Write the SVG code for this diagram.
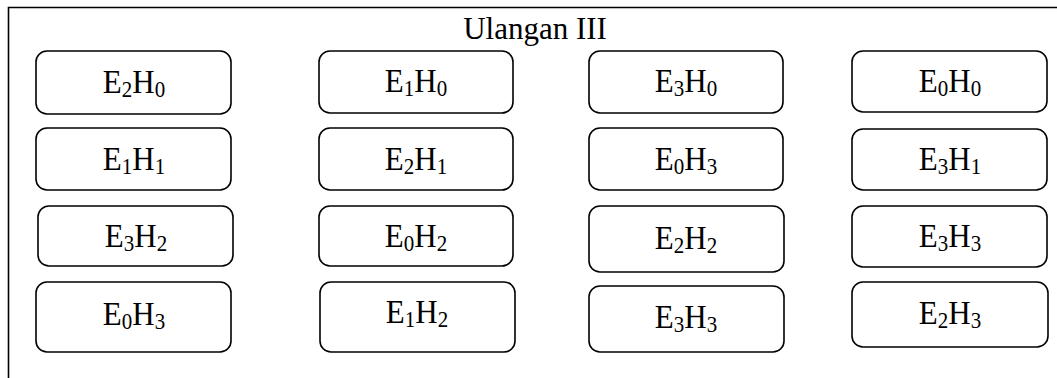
<svg xmlns="http://www.w3.org/2000/svg" width="1057" height="378" viewBox="0 0 1057 378">
<style>
.b{fill:#fff;stroke:#000;stroke-width:1.6}
.t{font-family:"Liberation Serif","Times New Roman",serif;font-size:31px;fill:#000;text-anchor:middle}
.s{font-size:21px}
.f{stroke:#000;stroke-width:1.6;fill:none}
</style>
<rect width="1057" height="378" fill="#fff"/>
<g id="frame">
<path class="f" d="M8.5 378 V7.5 H1057"/>
<text class="t" x="535" y="39">Ulangan III</text>
</g>
<g id="connectors"></g>
<g id="n11"><rect class="b" x="36" y="51" width="195" height="63" rx="11"/><text class="t" transform="matrix(1 0 0 1.1 134 93)">E<tspan class="s" dy="4">2</tspan><tspan dy="-4">H</tspan><tspan class="s" dy="4">0</tspan></text></g>
<g id="n12"><rect class="b" x="319" y="51" width="194" height="62" rx="11"/><text class="t" transform="matrix(1 0 0 1.1 416 92)">E<tspan class="s" dy="4">1</tspan><tspan dy="-4">H</tspan><tspan class="s" dy="4">0</tspan></text></g>
<g id="n13"><rect class="b" x="589" y="51" width="194" height="62" rx="11"/><text class="t" transform="matrix(1 0 0 1.1 686 92)">E<tspan class="s" dy="4">3</tspan><tspan dy="-4">H</tspan><tspan class="s" dy="4">0</tspan></text></g>
<g id="n14"><rect class="b" x="852" y="51" width="195" height="61" rx="11"/><text class="t" transform="matrix(1 0 0 1.1 950 92)">E<tspan class="s" dy="4">0</tspan><tspan dy="-4">H</tspan><tspan class="s" dy="4">0</tspan></text></g>
<g id="n21"><rect class="b" x="36" y="128" width="195" height="62" rx="11"/><text class="t" transform="matrix(1 0 0 1.1 134 170)">E<tspan class="s" dy="4">1</tspan><tspan dy="-4">H</tspan><tspan class="s" dy="4">1</tspan></text></g>
<g id="n22"><rect class="b" x="319" y="128" width="194" height="62" rx="11"/><text class="t" transform="matrix(1 0 0 1.1 416 170)">E<tspan class="s" dy="4">2</tspan><tspan dy="-4">H</tspan><tspan class="s" dy="4">1</tspan></text></g>
<g id="n23"><rect class="b" x="589" y="128" width="194" height="62" rx="11"/><text class="t" transform="matrix(1 0 0 1.1 686 170)">E<tspan class="s" dy="4">0</tspan><tspan dy="-4">H</tspan><tspan class="s" dy="4">3</tspan></text></g>
<g id="n24"><rect class="b" x="852" y="129" width="195" height="61" rx="11"/><text class="t" transform="matrix(1 0 0 1.1 950 170)">E<tspan class="s" dy="4">3</tspan><tspan dy="-4">H</tspan><tspan class="s" dy="4">1</tspan></text></g>
<g id="n31"><rect class="b" x="38" y="206" width="195" height="60" rx="11"/><text class="t" transform="matrix(1 0 0 1.1 136 247)">E<tspan class="s" dy="4">3</tspan><tspan dy="-4">H</tspan><tspan class="s" dy="4">2</tspan></text></g>
<g id="n32"><rect class="b" x="319" y="206" width="194" height="60" rx="11"/><text class="t" transform="matrix(1 0 0 1.1 416 247)">E<tspan class="s" dy="4">0</tspan><tspan dy="-4">H</tspan><tspan class="s" dy="4">2</tspan></text></g>
<g id="n33"><rect class="b" x="589" y="206" width="195" height="66" rx="11"/><text class="t" transform="matrix(1 0 0 1.1 686 249)">E<tspan class="s" dy="4">2</tspan><tspan dy="-4">H</tspan><tspan class="s" dy="4">2</tspan></text></g>
<g id="n34"><rect class="b" x="852" y="206" width="195" height="61" rx="11"/><text class="t" transform="matrix(1 0 0 1.1 950 247)">E<tspan class="s" dy="4">3</tspan><tspan dy="-4">H</tspan><tspan class="s" dy="4">3</tspan></text></g>
<g id="n41"><rect class="b" x="36" y="282" width="195" height="70" rx="11"/><text class="t" transform="matrix(1 0 0 1.1 134 325)">E<tspan class="s" dy="4">0</tspan><tspan dy="-4">H</tspan><tspan class="s" dy="4">3</tspan></text></g>
<g id="n42"><rect class="b" x="320" y="282" width="195" height="70" rx="11"/><text class="t" transform="matrix(1 0 0 1.1 417 323)">E<tspan class="s" dy="4">1</tspan><tspan dy="-4">H</tspan><tspan class="s" dy="4">2</tspan></text></g>
<g id="n43"><rect class="b" x="589" y="286" width="195" height="66" rx="11"/><text class="t" transform="matrix(1 0 0 1.1 686 328)">E<tspan class="s" dy="4">3</tspan><tspan dy="-4">H</tspan><tspan class="s" dy="4">3</tspan></text></g>
<g id="n44"><rect class="b" x="852" y="282" width="196" height="65" rx="11"/><text class="t" transform="matrix(1 0 0 1.1 950 324)">E<tspan class="s" dy="4">2</tspan><tspan dy="-4">H</tspan><tspan class="s" dy="4">3</tspan></text></g>
</svg>
